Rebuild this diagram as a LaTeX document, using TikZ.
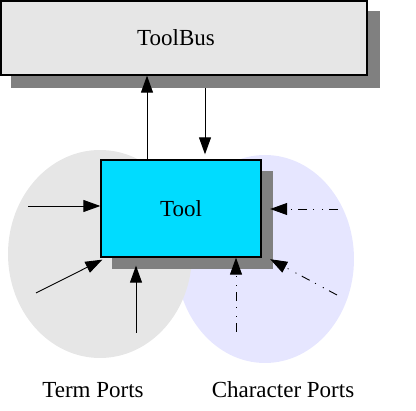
\documentclass[tikz,border=0pt]{standalone}
\usepackage{fontspec}
\setmainfont{Liberation Serif}
\usetikzlibrary{arrows.meta}

\definecolor{termgray}{HTML}{E6E6E6}
\definecolor{charblue}{HTML}{E6E6FF}
\definecolor{toolcyan}{HTML}{00DCFF}
\definecolor{shadowgray}{HTML}{808080}

\begin{document}
\begin{tikzpicture}[x=1pt, y=-1pt,
    every node/.style={font=\fontsize{23}{27}\selectfont},
    box/.style={draw, line width=1.3pt, inner sep=0pt},
    shade/.style={fill=shadowgray, inner sep=0pt},
    port/.style={line width=0.9pt, -{Triangle[length=17pt, width=12pt]}},
    charport/.style={port, dash pattern=on 9pt off 6pt on 1pt off 8pt on 1pt off 6pt}]
  \useasboundingbox (0,0) rectangle (416,411);
  \fill[charblue] (265,259) ellipse [x radius=89, y radius=104];
  \fill[termgray] (100,254) ellipse [x radius=92, y radius=104];
  \node[shade, minimum width=369, minimum height=77] (busshadow) at (195.5,49.5) {};
  \node[box, fill=termgray, minimum width=366, minimum height=74] (bus) at (184,38) {};
  \node[inner sep=0pt] (buslabel) at (176,38) {ToolBus};
  \node[shade, minimum width=161, minimum height=98] (toolshadow) at (192.5,220) {};
  \node[box, fill=toolcyan, minimum width=160, minimum height=97] (tool) at (181,208.5) {Tool};
  \node (termlabel) at (93,390) {Term Ports};
  \node (charlabel) at (283,390) {Character Ports};
  \coordinate (t1) at (28,206);
  \coordinate (t2) at (36,293);
  \coordinate (t3) at (136,333);
  \coordinate (c1) at (338,209);
  \coordinate (c2) at (337,295);
  \coordinate (c3) at (236,332);
  \draw[port] ([xshift=-34pt]tool.north) -- ([xshift=-34pt]tool.north |- bus.south);
  \draw[port] ([xshift=24pt]tool.north |- busshadow.south) -- ([xshift=24pt, yshift=5pt]tool.north);
  \draw[port] (t1) -- (t1 -| tool.west);
  \draw[port] (t2) -- ([xshift=2pt, yshift=-2pt]tool.south west);
  \draw[port] (t3) -- ([yshift=-8pt]t3 |- tool.south);
  \draw[charport] (c1) -- ([xshift=-3pt]c1 -| toolshadow.east);
  \draw[charport] (c2) -- ([xshift=-3pt, yshift=10pt]toolshadow.south east);
  \draw[charport] (c3) -- (c3 |- tool.south);
\end{tikzpicture}
\end{document}
